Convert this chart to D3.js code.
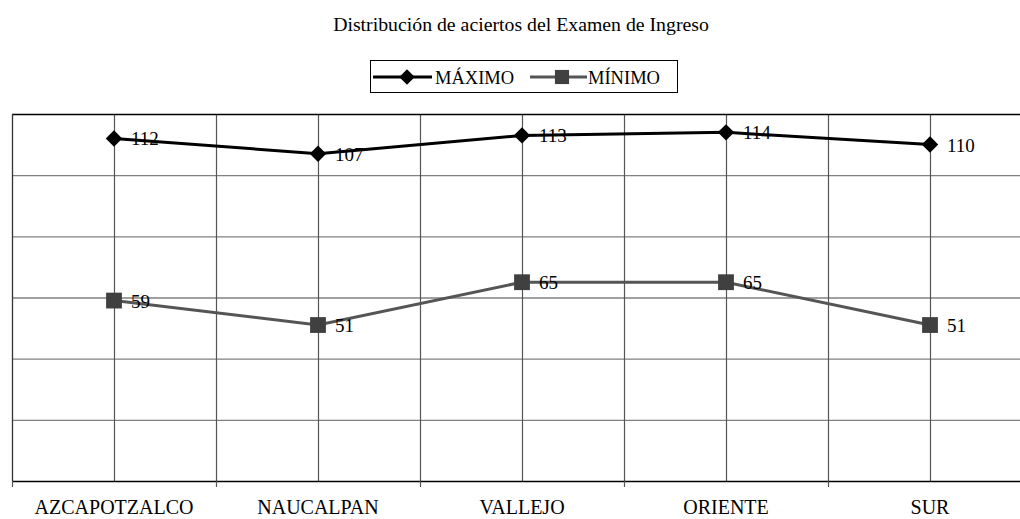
<!DOCTYPE html>
<html>
<head>
<meta charset="utf-8">
<script src="https://cdn.jsdelivr.net/npm/d3@7"></script>
<style>
  body { margin: 0; background: #fff; }
  text { font-family: "Liberation Serif", "Times New Roman", serif; }
</style>
</head>
<body>
<div id="chart"></div>
<script>
var categories = ["AZCAPOTZALCO", "NAUCALPAN", "VALLEJO", "ORIENTE", "SUR"];
var maximo = [112, 107, 113, 114, 110];
var minimo = [59, 51, 65, 65, 51];
var yTicks = [0, 20, 40, 60, 80, 100, 120];

var W = 1020, H = 519;
var margin = { top: 114, left: 12, right: -12, bottom: 38 };
var width = W - margin.left - margin.right,
    height = H - margin.top - margin.bottom;

var svg = d3.select("#chart").append("svg")
    .attr("width", W).attr("height", H);

svg.append("text")
    .attr("x", 521).attr("y", 31)
    .attr("text-anchor", "middle")
    .style("font-size", "19.8px")
    .text("Distribución de aciertos del Examen de Ingreso");

var g = svg.append("g")
    .attr("transform", "translate(" + margin.left + "," + margin.top + ")");

var x = d3.scaleBand().domain(categories).range([0, width]);
var y = d3.scaleLinear().domain([0, 120]).range([height, 0]);

// horizontal gridlines
g.selectAll(".hgrid").data(yTicks.slice(1, -1)).enter().append("line")
    .attr("x1", 0).attr("x2", width)
    .attr("y1", d => y(d) + 0.5).attr("y2", d => y(d) + 0.5)
    .attr("stroke", "#808080").attr("stroke-width", 1.3);

// vertical gridlines at centers and boundaries
var vlines = [];
categories.forEach(function (c, i) {
    vlines.push(x(c) + x.bandwidth() / 2);
    if (i > 0) vlines.push(x(c));
});
g.selectAll(".vgrid").data(vlines).enter().append("line")
    .attr("x1", d => d + 0.5).attr("x2", d => d + 0.5)
    .attr("y1", 0).attr("y2", height)
    .attr("stroke", "#555").attr("stroke-width", 1.2);

// top border and left border
g.append("line").attr("x1", 0).attr("x2", width).attr("y1", 0.5).attr("y2", 0.5)
    .attr("stroke", "#000").attr("stroke-width", 1.3);
g.append("line").attr("x1", 0.5).attr("x2", 0.5).attr("y1", 0).attr("y2", height)
    .attr("stroke", "#333").attr("stroke-width", 1.3);

// x axis
var xAxis = g.append("g")
    .attr("transform", "translate(0," + height + ")")
    .call(d3.axisBottom(x).tickSize(0).tickPadding(19));
xAxis.select(".domain").attr("stroke", "#000").attr("stroke-width", 1.3);
xAxis.selectAll("text").style("font-size", "20px").attr("fill", "#000")
    .style("font-family", "Liberation Serif, serif");
// boundary ticks
g.selectAll(".btick").data([0].concat(categories.slice(1).map(c => x(c)))).enter().append("line")
    .attr("x1", d => d + 0.5).attr("x2", d => d + 0.5)
    .attr("y1", height).attr("y2", height + 6)
    .attr("stroke", "#555").attr("stroke-width", 1.2);

var cx = d => x(d) + x.bandwidth() / 2;

function drawSeries(vals, color, lineColor, shape, size) {
    var data = categories.map((c, i) => ({ c: c, v: vals[i] }));
    g.append("path").datum(data)
        .attr("fill", "none")
        .attr("stroke", lineColor).attr("stroke-width", 3)
        .attr("d", d3.line().x(d => cx(d.c)).y(d => y(d.v)));
    g.selectAll(null).data(data).enter().append("path")
        .attr("transform", d => "translate(" + cx(d.c) + "," + y(d.v) + ")" + (shape === "diamond" ? " rotate(45)" : ""))
        .attr("d", d3.symbol().type(d3.symbolSquare).size(size))
        .attr("fill", color);
    g.selectAll(null).data(data).enter().append("text")
        .attr("x", d => cx(d.c) + 17)
        .attr("y", d => y(d.v) + 7)
        .style("font-size", "19px")
        .attr("fill", "#000")
        .text(d => d.v);
}

drawSeries(maximo, "#000", "#000", "diamond", 135);
drawSeries(minimo, "#404040", "#555", "square", 250);

// legend
var lg = svg.append("g");
lg.append("rect").attr("x", 370.5).attr("y", 60.5).attr("width", 307).attr("height", 32)
    .attr("fill", "#fff").attr("stroke", "#000").attr("stroke-width", 1);
lg.append("line").attr("x1", 373).attr("x2", 432).attr("y1", 77).attr("y2", 77)
    .attr("stroke", "#000").attr("stroke-width", 3);
lg.append("path").attr("transform", "translate(407,77) rotate(45)")
    .attr("d", d3.symbol().type(d3.symbolSquare).size(120)).attr("fill", "#000");
lg.append("text").attr("x", 435).attr("y", 84).style("font-size", "18.5px").text("MÁXIMO");
lg.append("line").attr("x1", 530).attr("x2", 587).attr("y1", 77).attr("y2", 77)
    .attr("stroke", "#555").attr("stroke-width", 3);
lg.append("path").attr("transform", "translate(562,77)")
    .attr("d", d3.symbol().type(d3.symbolSquare).size(200)).attr("fill", "#404040");
lg.append("text").attr("x", 588).attr("y", 84).style("font-size", "18.5px").text("MÍNIMO");
</script>
</body>
</html>
